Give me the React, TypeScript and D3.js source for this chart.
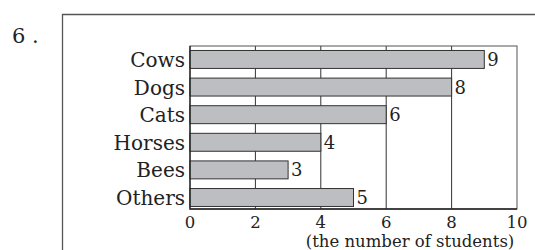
import React, { useEffect, useRef } from 'react';
import * as d3 from 'd3';

const categories = ['Cows', 'Dogs', 'Cats', 'Horses', 'Bees', 'Others'];
const values = [9, 8, 6, 4, 3, 5];
const xTicks = [0, 2, 4, 6, 8, 10];
const gridTicks = [2, 4, 6, 8];
const questionNumber = '6 .';
const xAxisLabel = '(the number of students)';

const FONT = '"DejaVu Serif", serif';

const App: React.FC = () => {
  const svgRef = useRef<SVGSVGElement>(null);
  const width = 535;
  const height = 250;

  useEffect(() => {
    if (!svgRef.current) return;
    const svg = d3.select(svgRef.current);
    svg.selectAll('*').remove();

    // Plot area
    const plot = { left: 190, right: 517, top: 46, bottom: 209 };

    svg.append('rect')
      .attr('width', width)
      .attr('height', height)
      .attr('fill', '#fff');

    // Outer frame (runs off right and bottom)
    svg.append('path')
      .attr('d', `M62.5,${height + 5} V14.5 H${width + 5}`)
      .attr('fill', 'none')
      .attr('stroke', '#555')
      .attr('stroke-width', 1.3);

    // Question number
    svg.append('text')
      .attr('x', 12)
      .attr('y', 43)
      .style('font-family', FONT)
      .style('font-size', '21px')
      .style('fill', '#222')
      .text(questionNumber);

    const xScale = d3.scaleLinear()
      .domain([0, 10])
      .range([plot.left, plot.right]);

    const yScale = d3.scaleBand<string>()
      .domain(categories)
      .range([plot.top, plot.bottom])
      .paddingInner(0.35)
      .paddingOuter(0.127)
      .align(0.64);

    // Grid lines
    svg.append('g')
      .selectAll('line')
      .data(gridTicks)
      .enter()
      .append('line')
      .attr('x1', d => xScale(d))
      .attr('x2', d => xScale(d))
      .attr('y1', plot.top)
      .attr('y2', plot.bottom)
      .attr('stroke', '#333')
      .attr('stroke-width', 1);

    // Plot border
    svg.append('rect')
      .attr('x', plot.left)
      .attr('y', plot.top)
      .attr('width', plot.right - plot.left)
      .attr('height', plot.bottom - plot.top)
      .attr('fill', 'none')
      .attr('stroke', '#555')
      .attr('stroke-width', 1);

    // Bars
    svg.append('g')
      .selectAll('rect')
      .data(values)
      .enter()
      .append('rect')
      .attr('x', xScale(0))
      .attr('y', (_, i) => yScale(categories[i]) || 0)
      .attr('width', d => xScale(d) - xScale(0))
      .attr('height', yScale.bandwidth())
      .attr('fill', '#bdbec1')
      .attr('stroke', '#333')
      .attr('stroke-width', 1);

    // Axis lines (left + bottom, darker)
    svg.append('path')
      .attr('d', `M${plot.left},${plot.top} V${plot.bottom} H${plot.right}`)
      .attr('fill', 'none')
      .attr('stroke', '#222')
      .attr('stroke-width', 1.3);

    // Value labels
    svg.append('g')
      .selectAll('text')
      .data(values)
      .enter()
      .append('text')
      .attr('x', d => xScale(d) + 3)
      .attr('y', (_, i) => (yScale(categories[i]) || 0) + yScale.bandwidth() / 2 + 6.5)
      .style('font-family', FONT)
      .style('font-size', '18px')
      .style('fill', '#222')
      .text(d => d);

    // Category labels
    svg.append('g')
      .selectAll('text')
      .data(categories)
      .enter()
      .append('text')
      .attr('x', plot.left - 5)
      .attr('y', d => (yScale(d) || 0) + yScale.bandwidth() / 2 + 7.5)
      .attr('text-anchor', 'end')
      .style('font-family', FONT)
      .style('font-size', '20px')
      .style('fill', '#222')
      .text(d => d);

    // X tick labels
    svg.append('g')
      .selectAll('text')
      .data(xTicks)
      .enter()
      .append('text')
      .attr('x', d => xScale(d))
      .attr('y', 228)
      .attr('text-anchor', 'middle')
      .style('font-family', FONT)
      .style('font-size', '16.5px')
      .style('fill', '#222')
      .text(d => d);

    // X axis label
    svg.append('text')
      .attr('x', 410)
      .attr('y', 247)
      .attr('text-anchor', 'middle')
      .style('font-family', FONT)
      .style('font-size', '16.5px')
      .style('fill', '#222')
      .text(xAxisLabel);
  }, []);

  return (
    <svg
      ref={svgRef}
      width={width}
      height={height}
      style={{ position: 'absolute', left: 0, top: 0, display: 'block' }}
    ></svg>
  );
};

export default App;
